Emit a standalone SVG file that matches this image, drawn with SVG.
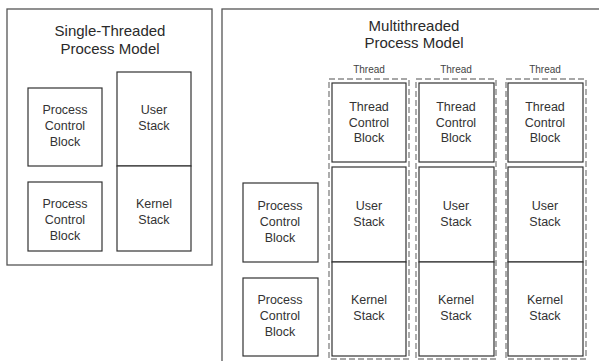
<svg xmlns="http://www.w3.org/2000/svg" width="599" height="361" viewBox="0 0 599 361">
  <style>
    .panel { fill: #fff; stroke: #555; stroke-width: 1.3; }
    .box { fill: #fff; stroke: #333; stroke-width: 1.2; }
    .thread { fill: none; stroke: #8a8a8a; stroke-width: 1.4; stroke-dasharray: 6 3; }
    .title { font-family: "Liberation Sans", Arial, sans-serif; font-size: 15px; fill: #2a2a2a; text-anchor: middle; }
    .lbl { font-family: "Liberation Sans", Arial, sans-serif; font-size: 12.5px; fill: #333; text-anchor: middle; }
    .small { font-family: "Liberation Sans", Arial, sans-serif; font-size: 10px; fill: #444; text-anchor: middle; }
  </style>
  <rect width="599" height="361" fill="#fff"/>

  <!-- Single-threaded process model -->
  <g id="single-panel">
    <rect class="panel" x="7" y="9" width="205" height="256"/>
    <text class="title" x="110" y="36">Single-Threaded</text>
    <text class="title" x="110" y="54">Process Model</text>
  </g>
  <g id="st-pcb1">
    <rect class="box" x="28" y="88" width="74" height="78"/>
    <text class="lbl" x="65" y="114">Process</text>
    <text class="lbl" x="65" y="130">Control</text>
    <text class="lbl" x="65" y="146">Block</text>
  </g>
  <g id="st-pcb2">
    <rect class="box" x="28" y="182" width="74" height="69"/>
    <text class="lbl" x="65" y="208">Process</text>
    <text class="lbl" x="65" y="224">Control</text>
    <text class="lbl" x="65" y="240">Block</text>
  </g>
  <g id="st-user">
    <rect class="box" x="117" y="72" width="74" height="94"/>
    <text class="lbl" x="154" y="114">User</text>
    <text class="lbl" x="154" y="130">Stack</text>
  </g>
  <g id="st-kernel">
    <rect class="box" x="117" y="166" width="74" height="85"/>
    <text class="lbl" x="154" y="208">Kernel</text>
    <text class="lbl" x="154" y="224">Stack</text>
  </g>

  <!-- Multithreaded process model -->
  <g id="multi-panel">
    <rect class="panel" x="222" y="9" width="390" height="370"/>
    <text class="title" x="414" y="31">Multithreaded</text>
    <text class="title" x="414" y="48">Process Model</text>
  </g>
  <g id="mt-pcb1">
    <rect class="box" x="243" y="183" width="75" height="79"/>
    <text class="lbl" x="280" y="210">Process</text>
    <text class="lbl" x="280" y="226">Control</text>
    <text class="lbl" x="280" y="242">Block</text>
  </g>
  <g id="mt-pcb2">
    <rect class="box" x="243" y="278" width="75" height="78"/>
    <text class="lbl" x="280" y="304">Process</text>
    <text class="lbl" x="280" y="320">Control</text>
    <text class="lbl" x="280" y="336">Block</text>
  </g>

  <g id="thread1">
    <text class="small" x="369" y="73">Thread</text>
    <rect class="thread" x="329" y="79" width="80" height="280"/>
    <rect class="box" x="332" y="83" width="74" height="79"/>
    <text class="lbl" x="369" y="111">Thread</text>
    <text class="lbl" x="369" y="127">Control</text>
    <text class="lbl" x="369" y="142">Block</text>
    <rect class="box" x="332" y="167" width="74" height="95"/>
    <text class="lbl" x="369" y="210">User</text>
    <text class="lbl" x="369" y="226">Stack</text>
    <rect class="box" x="332" y="262" width="74" height="94"/>
    <text class="lbl" x="369" y="304">Kernel</text>
    <text class="lbl" x="369" y="320">Stack</text>
  </g>
  <g id="thread2">
    <text class="small" x="456" y="73">Thread</text>
    <rect class="thread" x="416" y="79" width="80" height="280"/>
    <rect class="box" x="419" y="83" width="75" height="79"/>
    <text class="lbl" x="456" y="111">Thread</text>
    <text class="lbl" x="456" y="127">Control</text>
    <text class="lbl" x="456" y="142">Block</text>
    <rect class="box" x="419" y="167" width="75" height="95"/>
    <text class="lbl" x="456" y="210">User</text>
    <text class="lbl" x="456" y="226">Stack</text>
    <rect class="box" x="419" y="262" width="75" height="94"/>
    <text class="lbl" x="456" y="304">Kernel</text>
    <text class="lbl" x="456" y="320">Stack</text>
  </g>
  <g id="thread3">
    <text class="small" x="545" y="73">Thread</text>
    <rect class="thread" x="506" y="79" width="80" height="280"/>
    <rect class="box" x="508" y="83" width="75" height="79"/>
    <text class="lbl" x="545" y="111">Thread</text>
    <text class="lbl" x="545" y="127">Control</text>
    <text class="lbl" x="545" y="142">Block</text>
    <rect class="box" x="508" y="167" width="75" height="95"/>
    <text class="lbl" x="545" y="210">User</text>
    <text class="lbl" x="545" y="226">Stack</text>
    <rect class="box" x="508" y="262" width="75" height="94"/>
    <text class="lbl" x="545" y="304">Kernel</text>
    <text class="lbl" x="545" y="320">Stack</text>
  </g>

  <g id="connectors"></g>
</svg>
